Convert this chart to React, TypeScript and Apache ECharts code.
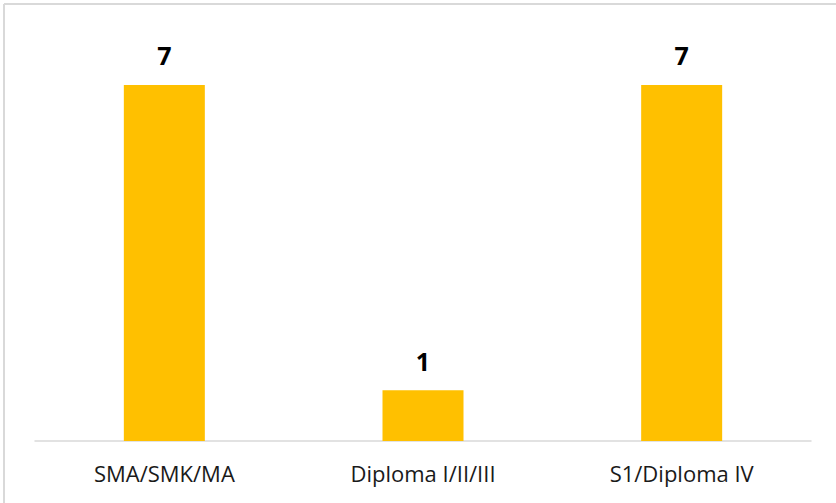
import React, { useEffect, useRef } from "react";
import * as echarts from "echarts";

const categories = ["SMA/SMK/MA", "Diploma I/II/III", "S1/Diploma IV"];
const values = [7, 1, 7];

export default function App() {
  const ref = useRef<HTMLDivElement>(null);
  useEffect(() => {
    document.body.style.margin = "0";
    const chart = echarts.init(ref.current!, undefined, { renderer: "svg" });
    chart.setOption({
      animation: false,
      backgroundColor: "#ffffff",
      grid: { left: 35, right: 25, top: 34, bottom: 62 },
      xAxis: {
        type: "category",
        data: categories,
        axisLine: { lineStyle: { color: "#d9d9d9", width: 1.5 } },
        axisTick: { show: false },
        axisLabel: {
          color: "#1a1a1a",
          fontFamily: "Open Sans",
          fontSize: 22,
          margin: 21,
        },
      },
      yAxis: {
        type: "value",
        min: 0,
        max: 8,
        interval: 1,
        show: false,
        splitLine: { show: false },
      },
      series: [
        {
          type: "bar",
          data: values,
          barWidth: 81,
          itemStyle: { color: "#ffc000" },
          label: {
            show: true,
            position: "top",
            distance: 17,
            color: "#000000",
            fontFamily: "Open Sans",
            fontWeight: "bold",
            fontSize: 25,
          },
        },
      ],
      graphic: [
        {
          type: "line",
          shape: { x1: 4, y1: 4, x2: 836, y2: 4 },
          style: { stroke: "#d9d9d9", lineWidth: 2 },
        },
        {
          type: "line",
          shape: { x1: 4, y1: 4, x2: 4, y2: 503 },
          style: { stroke: "#d9d9d9", lineWidth: 2 },
        },
      ],
    });
    return () => chart.dispose();
  }, []);
  return (
    <div
      ref={ref}
      style={{ position: "absolute", left: 0, top: 0, width: 836, height: 503 }}
    />
  );
}
